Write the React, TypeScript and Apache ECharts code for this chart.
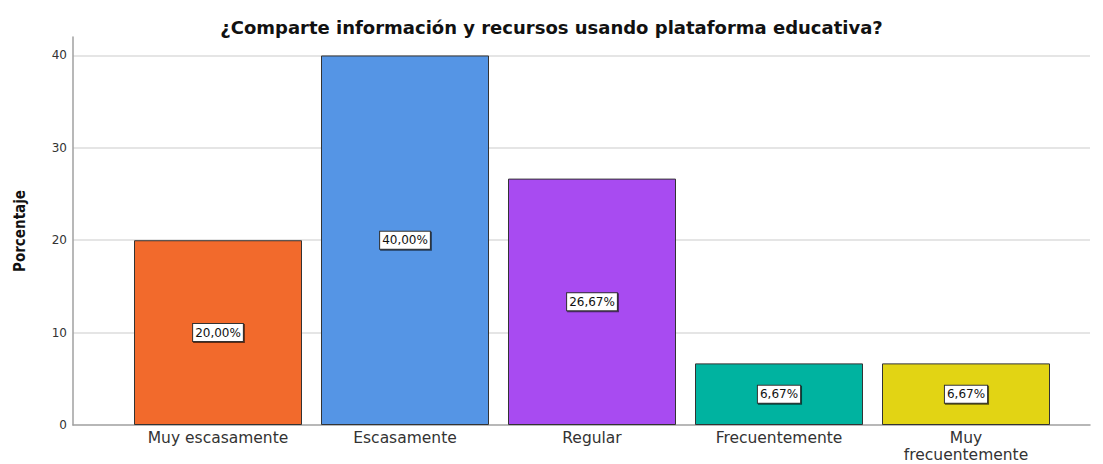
import React, { useEffect, useRef } from "react";
import * as echarts from "echarts";

const categories = ["Muy escasamente", "Escasamente", "Regular", "Frecuentemente", "Muy\nfrecuentemente"];
const values = [20.0, 40.0, 26.67, 6.67, 6.67];
const barColors = ["#F26A2C", "#5595E5", "#A84BF1", "#00B3A0", "#E2D414"];
const yTicks = [0, 10, 20, 30, 40];
const titleText = "¿Comparte información y recursos usando plataforma educativa?";
const yName = "Porcentaje";

export default function App() {
  const ref = useRef<HTMLDivElement>(null);
  useEffect(() => {
    if (!ref.current) return;
    const chart = echarts.init(ref.current, undefined, { renderer: "svg" });
    const yMax = 42;
    chart.setOption({
      animation: false,
      backgroundColor: "#ffffff",
      title: {
        text: titleText,
        left: "center",
        top: 13,
        textStyle: { fontFamily: "DejaVu Sans", fontWeight: "bold", fontSize: 18, color: "#111" },
      },
      grid: [
        { left: 124.5, right: 43.5, top: 37, bottom: 39, outerBoundsMode: "none", containLabel: false },
        { left: 73, right: 13, top: 37, bottom: 39, outerBoundsMode: "none", containLabel: false },
      ],
      xAxis: [
        {
          type: "category",
          gridIndex: 0,
          data: categories,
          axisLine: { show: false },
          axisTick: { show: false },
          axisLabel: {
            fontFamily: "DejaVu Sans",
            fontSize: 15.5,
            color: "#333",
            margin: 4,
            lineHeight: 17,
            interval: 0,
          },
        },
        {
          type: "value",
          gridIndex: 1,
          min: 0,
          max: 1,
          axisLine: { show: true, onZero: false, lineStyle: { color: "#A0A0A0", width: 1.5 } },
          axisTick: { show: false },
          axisLabel: { show: false },
          splitLine: { show: false },
        },
      ],
      yAxis: [
        {
          type: "value",
          gridIndex: 0,
          min: 0,
          max: yMax,
          show: false,
          splitLine: { show: false },
        },
        {
          type: "value",
          gridIndex: 1,
          min: yTicks[0],
          max: yMax,
          interval: yTicks[1] - yTicks[0],
          name: yName,
          nameLocation: "middle",
          nameRotate: 90,
          nameGap: 46,
          nameTextStyle: {
            fontFamily: "Liberation Sans Narrow, DejaVu Sans Condensed, Liberation Sans",
            fontWeight: "bold",
            fontSize: 15,
            color: "#111",
          },
          axisLine: { show: true, lineStyle: { color: "#A0A0A0", width: 1.5 } },
          axisTick: { show: false },
          axisLabel: {
            fontFamily: "DejaVu Sans",
            fontSize: 12,
            color: "#333",
            margin: 6,
            showMaxLabel: false,
          },
          splitLine: {
            show: true,
            showMinLine: false,
            showMaxLine: false,
            lineStyle: { color: "#DDDDDD", width: 1.5 },
          },
        },
      ],
      series: [
        {
          type: "bar",
          xAxisIndex: 0,
          yAxisIndex: 0,
          barWidth: 168,
          data: values.map((v, i) => ({
            value: v,
            itemStyle: { color: barColors[i], borderColor: "#333", borderWidth: 1 },
          })),
          label: {
            show: true,
            position: "inside",
            formatter: (p: any) => p.value.toFixed(2).replace(".", ",") + "%",
            fontFamily: "DejaVu Sans",
            fontSize: 12,
            color: "#111",
            backgroundColor: "#ffffff",
            borderColor: "#333",
            borderWidth: 1,
            padding: [3, 2, 2, 2],
            shadowColor: "rgba(0,0,0,0.6)",
            shadowOffsetX: 1,
            shadowOffsetY: 1,
            shadowBlur: 0,
          },
        },
      ],
    });
    return () => chart.dispose();
  }, []);
  return (
    <div
      ref={ref}
      style={{ position: "absolute", left: 0, top: 0, width: 1103, height: 464 }}
    />
  );
}
